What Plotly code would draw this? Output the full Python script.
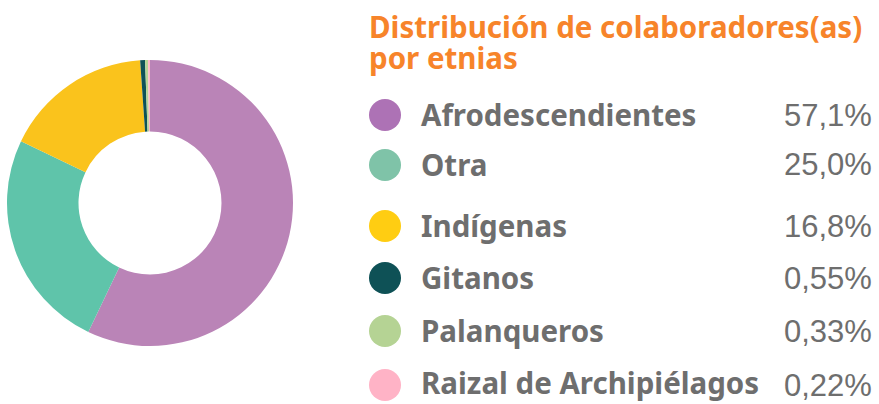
import plotly.graph_objects as go

# Data
categories = ["Afrodescendientes", "Otra", "Indígenas", "Gitanos", "Palanqueros",
              "Raizal de Archipiélagos"]
shares = [57.1, 25.0, 16.8, 0.55, 0.33, 0.22]
share_labels = ["57,1%", "25,0%", "16,8%", "0,55%", "0,33%", "0,22%"]

# Styles
slice_colors = ["#BA84B7", "#5FC4AA", "#FAC31C", "#0E5157", "#B5D497", "#FFB6C8"]
dot_colors = ["#AD72B5", "#7FC3A8", "#FFCD12", "#0E5156", "#B5D394", "#FFB3C6"]
title_lines = ["Distribución de colaboradores(as)", "por etnias"]

W, H = 879, 404
row_y = [115, 165, 226, 278, 331, 385]  # pixel centres of legend rows
GREY = "#6E6E6E"


def px(x):
    return x / W


def py(y):
    return 1 - y / H


fig = go.Figure()
fig.add_trace(go.Pie(
    labels=categories,
    values=shares,
    marker=dict(colors=slice_colors, line=dict(width=0)),
    hole=0.5,
    sort=False,
    direction="clockwise",
    rotation=0,
    textinfo="none",
    hoverinfo="label+percent",
    showlegend=False,
    domain=dict(x=[px(7), px(293)], y=[py(346), py(60)]),
))

shapes = []
annotations = []
for i, (cat, lab) in enumerate(zip(categories, share_labels)):
    yc = row_y[i]
    shapes.append(dict(
        type="circle", xref="paper", yref="paper",
        x0=px(369), x1=px(401), y0=py(yc + 16), y1=py(yc - 16),
        fillcolor=dot_colors[i], line=dict(width=0),
    ))
    label_y = yc - 1 if i < len(categories) - 1 else yc - 3
    annotations.append(dict(
        x=px(419), y=py(label_y), xref="paper", yref="paper",
        xanchor="left", yanchor="middle", showarrow=False,
        text=f"<b>{cat}</b>",
        font=dict(family="Noto Sans", size=29.5, color=GREY),
    ))
    annotations.append(dict(
        x=px(874), y=py(yc), xref="paper", yref="paper",
        xanchor="right", yanchor="middle", showarrow=False,
        text=lab,
        font=dict(family="Liberation Sans", size=31, color=GREY),
    ))

# Orange heading: the base font size sets the (tight) line spacing,
# the inner spans set the glyph size.
heading = "<br>".join(
    f'<span style="font-size:29.5px"><b>{line}</b></span>' for line in title_lines
)
annotations.append(dict(
    x=px(367), y=py(4), xref="paper", yref="paper",
    xanchor="left", yanchor="top", align="left",
    showarrow=False,
    text=heading,
    font=dict(family="Noto Sans", size=24, color="#F7842A"),
))

fig.update_layout(
    width=W, height=H,
    margin=dict(l=0, r=0, t=0, b=0),
    paper_bgcolor="white",
    plot_bgcolor="white",
    shapes=shapes,
    annotations=annotations,
)

fig.write_html("out.html")
